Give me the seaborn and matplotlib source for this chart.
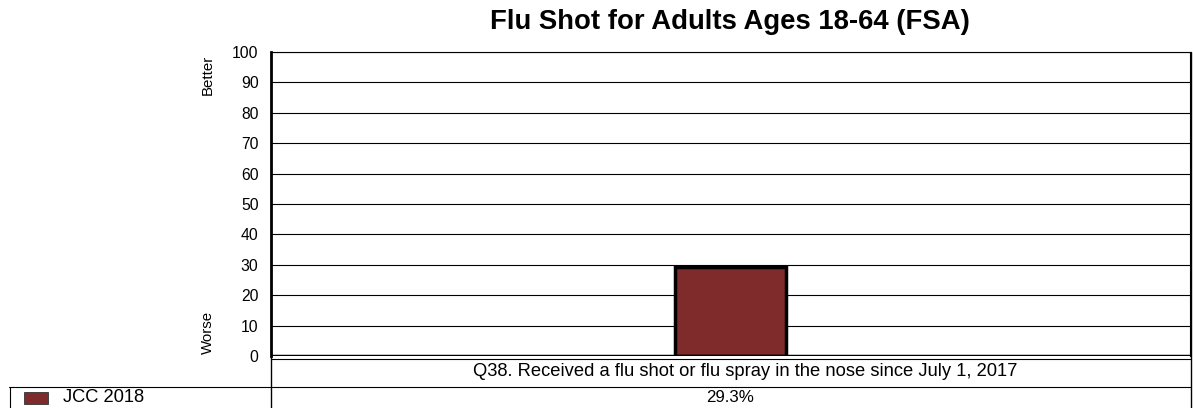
import matplotlib
matplotlib.use("Agg")
import matplotlib.pyplot as plt
import seaborn as sns
import pandas as pd
from matplotlib.lines import Line2D
from matplotlib.patches import Rectangle

categories = ["Q38. Received a flu shot or flu spray in the nose since July 1, 2017"]
series_name = "JCC 2018"
values = [29.3]
value_labels = ["29.3%"]
yticks = [0, 10, 20, 30, 40, 50, 60, 70, 80, 90, 100]
title = "Flu Shot for Adults Ages 18-64 (FSA)"
bar_color = "#802B2B"

sns.set_theme(style="white")
plt.rcParams['font.family'] = ['Liberation Sans', 'DejaVu Sans']
plt.rcParams['text.color'] = 'black'
plt.rcParams['ytick.color'] = 'black'
plt.rcParams['ytick.labelcolor'] = 'black'

W, H = 1193, 408
fig = plt.figure(figsize=(W / 100, H / 100), dpi=100)
L, R, T, B = 271, 1190, 52, 356
ax = fig.add_axes([L / W, 1 - B / H, (R - L) / W, (B - T) / H])

df = pd.DataFrame({"cat": categories, "val": values})
sns.barplot(data=df, x="cat", y="val", ax=ax, color=bar_color, width=0.12,
            edgecolor="black", linewidth=2.5, saturation=1, zorder=3)
ax.set_xlim(-0.5, 0.5)
ax.set_ylim(0, 100)
ax.set_yticks(yticks)
ax.set_yticklabels([str(t) for t in yticks], fontsize=11.3, color="black")
ax.set_xticks([])
ax.set_xlabel("")
ax.set_ylabel("")
for t in yticks[1:]:
    ax.axhline(t, color="black", linewidth=0.8, zorder=1)
ax.axhline(0, color="black", linewidth=2.5, zorder=4)
ax.tick_params(axis="y", length=0, pad=9)
for s in ["top", "right"]:
    ax.spines[s].set_linewidth(0.8)
    ax.spines[s].set_color("black")
ax.spines["left"].set_linewidth(2)
ax.spines["left"].set_color("black")
ax.spines["bottom"].set_visible(False)

fig.text(730 / W, 1 - 22 / H, title, ha="center", va="center", fontsize=19.8, fontweight="bold")
fig.text(208 / W, 1 - 75 / H, "Better", rotation=90, ha="center", va="center", fontsize=10.8)
fig.text(208 / W, 1 - 332 / H, "Worse", rotation=90, ha="center", va="center", fontsize=10.8)

def fx(x):
    return x / W

def fy(y):
    return 1 - y / H

def hline(x0, x1, y, lw=1.0):
    fig.add_artist(Line2D([fx(x0), fx(x1)], [fy(y), fy(y)], color="black", linewidth=lw))

def vline(x, y0, y1, lw=1.0):
    fig.add_artist(Line2D([fx(x), fx(x)], [fy(y0), fy(y1)], color="black", linewidth=lw))

# table below the plot
hline(L, 1191, 358.5, 0.8)
hline(9, 1191, 387, 0.8)
vline(271, 356, 408, 1.0)
vline(1191, 52, 408, 1.0)
vline(9.5, 387, 408, 0.8)

fig.text(745 / W, fy(372), categories[0], ha="center", va="center", fontsize=13.2)
fig.text(730 / W, fy(398), value_labels[0], ha="center", va="center", fontsize=12.2)
fig.add_artist(Rectangle((fx(24), fy(404)), fx(24), 12 / H, facecolor=bar_color,
                         edgecolor="#333333", linewidth=0.6))
fig.text(fx(63), fy(398), series_name, ha="left", va="center", fontsize=13.2)

fig.savefig("out.png", dpi=100)
